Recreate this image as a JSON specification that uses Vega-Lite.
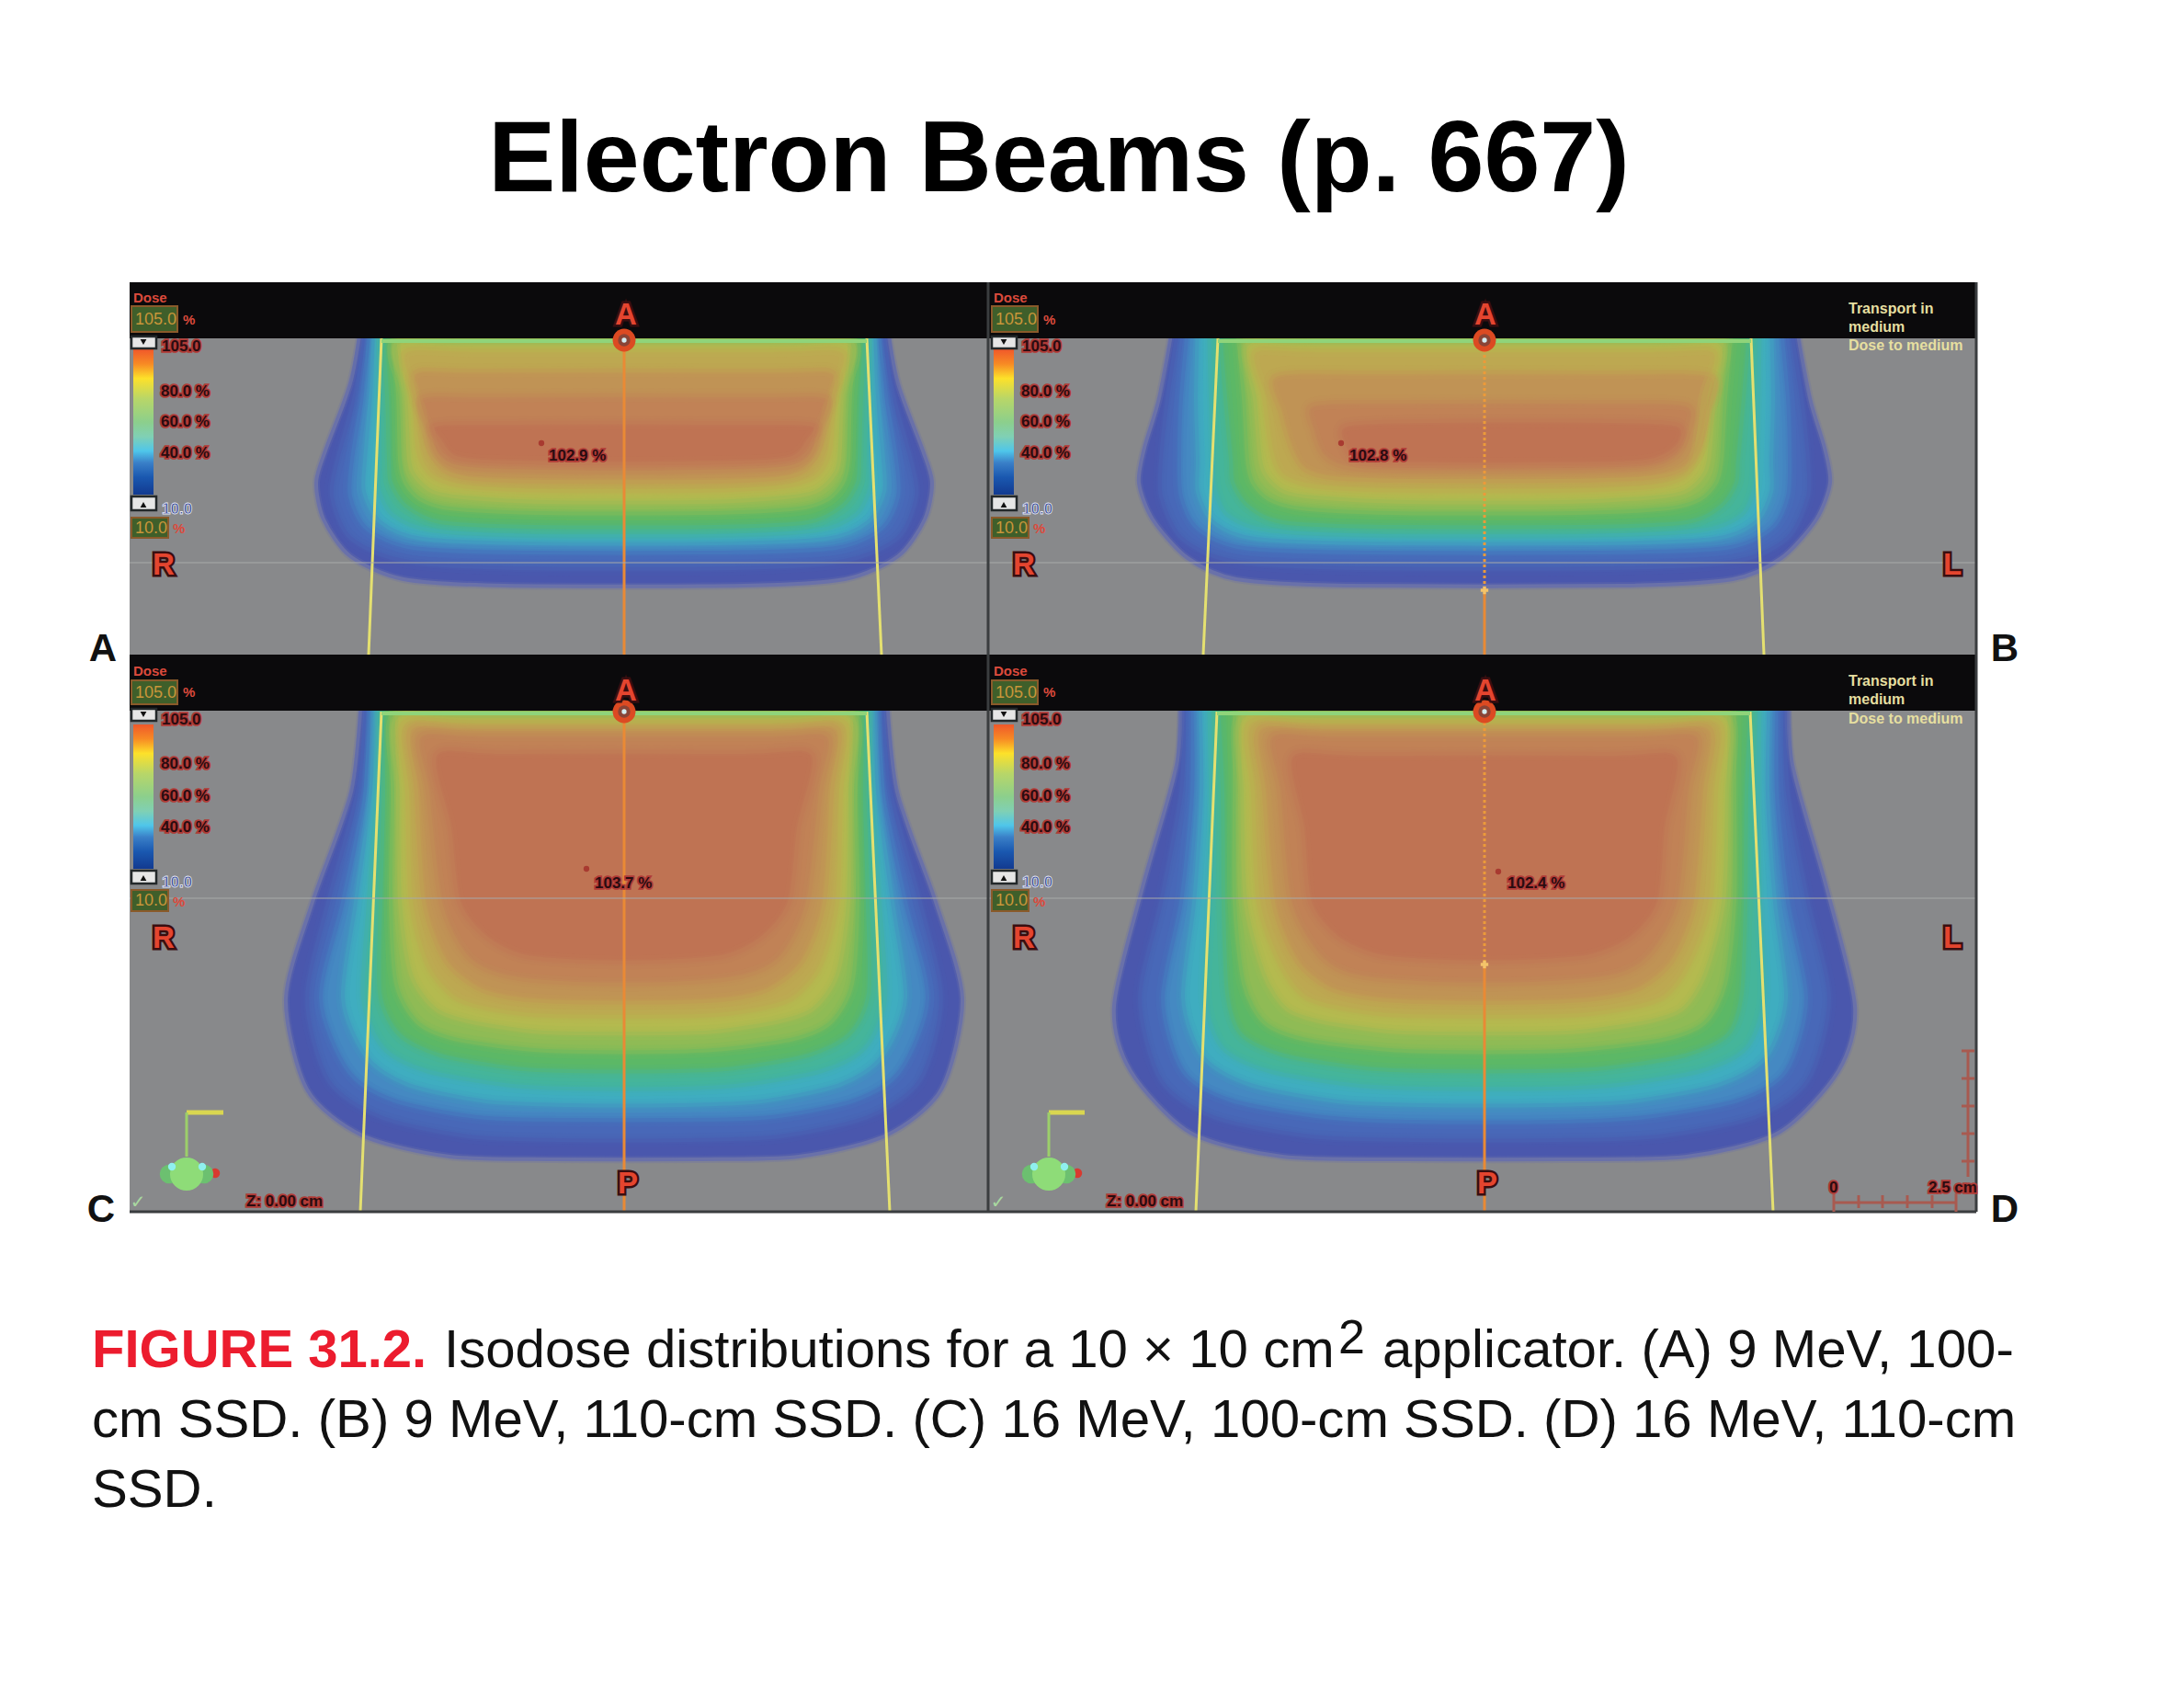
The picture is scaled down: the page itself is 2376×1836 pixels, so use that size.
{"$schema":"https://vega.github.io/schema/vega-lite/v6.json","width":2376,"height":1836,"autosize":{"type":"fit","contains":"padding"},"padding":0,"background":"#ffffff","view":{"stroke":null},
"datasets":{
"hud":[
{"text":"105.0","x":176,"y":382},{"text":"80.0 %","x":175,"y":431},{"text":"60.0 %","x":175,"y":464},{"text":"40.0 %","x":175,"y":498},
{"text":"105.0","x":1112,"y":382},{"text":"80.0 %","x":1111,"y":431},{"text":"60.0 %","x":1111,"y":464},{"text":"40.0 %","x":1111,"y":498},
{"text":"105.0","x":176,"y":788},{"text":"80.0 %","x":175,"y":836},{"text":"60.0 %","x":175,"y":871},{"text":"40.0 %","x":175,"y":905},
{"text":"105.0","x":1112,"y":788},{"text":"80.0 %","x":1111,"y":836},{"text":"60.0 %","x":1111,"y":871},{"text":"40.0 %","x":1111,"y":905},
{"text":"102.9 %","x":597,"y":501},{"text":"102.8 %","x":1468,"y":501},{"text":"103.7 %","x":647,"y":966},{"text":"102.4 %","x":1640,"y":966},
{"text":"Z: 0.00 cm","x":268,"y":1312},{"text":"Z: 0.00 cm","x":1204,"y":1312},{"text":"0","x":1990,"y":1297},{"text":"2.5 cm","x":2098,"y":1297}],
"letters":[
{"text":"A","x":681,"y":353},{"text":"A","x":1616,"y":353},{"text":"A","x":681,"y":762},{"text":"A","x":1616,"y":762},
{"text":"P","x":683,"y":1298},{"text":"P","x":1618,"y":1298},
{"text":"R","x":178,"y":625},{"text":"R","x":1114,"y":625},{"text":"R","x":178,"y":1031},{"text":"R","x":1114,"y":1031},
{"text":"L","x":2124,"y":625},{"text":"L","x":2124,"y":1031}],
"markers":[{"x":679,"y":370},{"x":1615,"y":370},{"x":679,"y":774},{"x":1615,"y":774}],
"shells":[
{"panel":"A","level":1,"x":394,"y":345},{"panel":"A","level":1,"x":381,"y":417},{"panel":"A","level":1,"x":354,"y":490},{"panel":"A","level":1,"x":344,"y":525},{"panel":"A","level":1,"x":352,"y":565},{"panel":"A","level":1,"x":381,"y":605},{"panel":"A","level":1,"x":439,"y":630},{"panel":"A","level":1,"x":549,"y":637},{"panel":"A","level":1,"x":809,"y":637},{"panel":"A","level":1,"x":919,"y":630},{"panel":"A","level":1,"x":977,"y":605},{"panel":"A","level":1,"x":1006,"y":565},{"panel":"A","level":1,"x":1014,"y":525},{"panel":"A","level":1,"x":1004,"y":490},{"panel":"A","level":1,"x":977,"y":417},{"panel":"A","level":1,"x":964,"y":345},{"panel":"A","level":1,"x":964,"y":320},{"panel":"A","level":1,"x":394,"y":320},
{"panel":"A","level":2,"x":399,"y":345},{"panel":"A","level":2,"x":386,"y":430},{"panel":"A","level":2,"x":367,"y":500},{"panel":"A","level":2,"x":361,"y":540},{"panel":"A","level":2,"x":381,"y":585},{"panel":"A","level":2,"x":439,"y":610},{"panel":"A","level":2,"x":559,"y":618},{"panel":"A","level":2,"x":799,"y":618},{"panel":"A","level":2,"x":919,"y":610},{"panel":"A","level":2,"x":977,"y":585},{"panel":"A","level":2,"x":997,"y":540},{"panel":"A","level":2,"x":991,"y":500},{"panel":"A","level":2,"x":972,"y":430},{"panel":"A","level":2,"x":959,"y":345},{"panel":"A","level":2,"x":959,"y":320},{"panel":"A","level":2,"x":399,"y":320},
{"panel":"A","level":3,"x":403,"y":345},{"panel":"A","level":3,"x":394,"y":430},{"panel":"A","level":3,"x":383,"y":500},{"panel":"A","level":3,"x":381,"y":540},{"panel":"A","level":3,"x":399,"y":575},{"panel":"A","level":3,"x":449,"y":596},{"panel":"A","level":3,"x":569,"y":601},{"panel":"A","level":3,"x":789,"y":601},{"panel":"A","level":3,"x":909,"y":596},{"panel":"A","level":3,"x":959,"y":575},{"panel":"A","level":3,"x":977,"y":540},{"panel":"A","level":3,"x":975,"y":500},{"panel":"A","level":3,"x":964,"y":430},{"panel":"A","level":3,"x":955,"y":345},{"panel":"A","level":3,"x":955,"y":320},{"panel":"A","level":3,"x":403,"y":320},
{"panel":"A","level":4,"x":407,"y":345},{"panel":"A","level":4,"x":403,"y":430},{"panel":"A","level":4,"x":397,"y":500},{"panel":"A","level":4,"x":396,"y":535},{"panel":"A","level":4,"x":414,"y":568},{"panel":"A","level":4,"x":459,"y":586},{"panel":"A","level":4,"x":579,"y":591},{"panel":"A","level":4,"x":779,"y":591},{"panel":"A","level":4,"x":899,"y":586},{"panel":"A","level":4,"x":944,"y":568},{"panel":"A","level":4,"x":962,"y":535},{"panel":"A","level":4,"x":961,"y":500},{"panel":"A","level":4,"x":955,"y":430},{"panel":"A","level":4,"x":951,"y":345},{"panel":"A","level":4,"x":951,"y":320},{"panel":"A","level":4,"x":407,"y":320},
{"panel":"A","level":5,"x":411,"y":345},{"panel":"A","level":5,"x":411,"y":430},{"panel":"A","level":5,"x":411,"y":500},{"panel":"A","level":5,"x":411,"y":530},{"panel":"A","level":5,"x":427,"y":560},{"panel":"A","level":5,"x":469,"y":577},{"panel":"A","level":5,"x":579,"y":583},{"panel":"A","level":5,"x":779,"y":583},{"panel":"A","level":5,"x":889,"y":577},{"panel":"A","level":5,"x":931,"y":560},{"panel":"A","level":5,"x":947,"y":530},{"panel":"A","level":5,"x":947,"y":500},{"panel":"A","level":5,"x":947,"y":430},{"panel":"A","level":5,"x":947,"y":345},{"panel":"A","level":5,"x":947,"y":320},{"panel":"A","level":5,"x":411,"y":320},
{"panel":"A","level":6,"x":415,"y":345},{"panel":"A","level":6,"x":421,"y":430},{"panel":"A","level":6,"x":423,"y":500},{"panel":"A","level":6,"x":425,"y":525},{"panel":"A","level":6,"x":441,"y":550},{"panel":"A","level":6,"x":479,"y":568},{"panel":"A","level":6,"x":579,"y":573},{"panel":"A","level":6,"x":779,"y":573},{"panel":"A","level":6,"x":879,"y":568},{"panel":"A","level":6,"x":917,"y":550},{"panel":"A","level":6,"x":933,"y":525},{"panel":"A","level":6,"x":935,"y":500},{"panel":"A","level":6,"x":937,"y":430},{"panel":"A","level":6,"x":943,"y":345},{"panel":"A","level":6,"x":943,"y":320},{"panel":"A","level":6,"x":415,"y":320},
{"panel":"A","level":7,"x":425,"y":345},{"panel":"A","level":7,"x":433,"y":430},{"panel":"A","level":7,"x":435,"y":500},{"panel":"A","level":7,"x":441,"y":525},{"panel":"A","level":7,"x":457,"y":543},{"panel":"A","level":7,"x":489,"y":553},{"panel":"A","level":7,"x":589,"y":558},{"panel":"A","level":7,"x":769,"y":558},{"panel":"A","level":7,"x":869,"y":553},{"panel":"A","level":7,"x":901,"y":543},{"panel":"A","level":7,"x":917,"y":525},{"panel":"A","level":7,"x":923,"y":500},{"panel":"A","level":7,"x":925,"y":430},{"panel":"A","level":7,"x":933,"y":345},{"panel":"A","level":7,"x":933,"y":320},{"panel":"A","level":7,"x":425,"y":320},
{"panel":"A","level":8,"x":431,"y":374},{"panel":"A","level":8,"x":441,"y":430},{"panel":"A","level":8,"x":445,"y":500},{"panel":"A","level":8,"x":453,"y":520},{"panel":"A","level":8,"x":471,"y":535},{"panel":"A","level":8,"x":504,"y":541},{"panel":"A","level":8,"x":589,"y":546},{"panel":"A","level":8,"x":769,"y":546},{"panel":"A","level":8,"x":854,"y":541},{"panel":"A","level":8,"x":887,"y":535},{"panel":"A","level":8,"x":905,"y":520},{"panel":"A","level":8,"x":913,"y":500},{"panel":"A","level":8,"x":917,"y":430},{"panel":"A","level":8,"x":927,"y":374},{"panel":"A","level":8,"x":849,"y":373},{"panel":"A","level":8,"x":509,"y":373},
{"panel":"A","level":9,"x":441,"y":382},{"panel":"A","level":9,"x":449,"y":430},{"panel":"A","level":9,"x":455,"y":490},{"panel":"A","level":9,"x":467,"y":515},{"panel":"A","level":9,"x":489,"y":526},{"panel":"A","level":9,"x":524,"y":531},{"panel":"A","level":9,"x":599,"y":534},{"panel":"A","level":9,"x":759,"y":534},{"panel":"A","level":9,"x":834,"y":531},{"panel":"A","level":9,"x":869,"y":526},{"panel":"A","level":9,"x":891,"y":515},{"panel":"A","level":9,"x":903,"y":490},{"panel":"A","level":9,"x":909,"y":430},{"panel":"A","level":9,"x":917,"y":382},{"panel":"A","level":9,"x":834,"y":381},{"panel":"A","level":9,"x":524,"y":381},
{"panel":"A","level":10,"x":451,"y":405},{"panel":"A","level":10,"x":457,"y":450},{"panel":"A","level":10,"x":467,"y":490},{"panel":"A","level":10,"x":483,"y":512},{"panel":"A","level":10,"x":514,"y":521},{"panel":"A","level":10,"x":599,"y":524},{"panel":"A","level":10,"x":759,"y":524},{"panel":"A","level":10,"x":844,"y":521},{"panel":"A","level":10,"x":875,"y":512},{"panel":"A","level":10,"x":891,"y":490},{"panel":"A","level":10,"x":901,"y":450},{"panel":"A","level":10,"x":907,"y":405},{"panel":"A","level":10,"x":839,"y":403},{"panel":"A","level":10,"x":519,"y":403},
{"panel":"A","level":11,"x":459,"y":432},{"panel":"A","level":11,"x":465,"y":465},{"panel":"A","level":11,"x":475,"y":495},{"panel":"A","level":11,"x":504,"y":509},{"panel":"A","level":11,"x":609,"y":513},{"panel":"A","level":11,"x":749,"y":513},{"panel":"A","level":11,"x":854,"y":509},{"panel":"A","level":11,"x":883,"y":495},{"panel":"A","level":11,"x":893,"y":465},{"panel":"A","level":11,"x":899,"y":432},{"panel":"A","level":11,"x":829,"y":430},{"panel":"A","level":11,"x":529,"y":430},
{"panel":"A","level":12,"x":474,"y":462},{"panel":"A","level":12,"x":479,"y":480},{"panel":"A","level":12,"x":494,"y":497},{"panel":"A","level":12,"x":529,"y":502},{"panel":"A","level":12,"x":629,"y":504},{"panel":"A","level":12,"x":729,"y":504},{"panel":"A","level":12,"x":829,"y":502},{"panel":"A","level":12,"x":864,"y":497},{"panel":"A","level":12,"x":879,"y":480},{"panel":"A","level":12,"x":884,"y":462},{"panel":"A","level":12,"x":809,"y":460},{"panel":"A","level":12,"x":549,"y":460},
{"panel":"B","level":1,"x":1277,"y":345},{"panel":"B","level":1,"x":1261,"y":433},{"panel":"B","level":1,"x":1245,"y":487},{"panel":"B","level":1,"x":1239,"y":525},{"panel":"B","level":1,"x":1254,"y":565},{"panel":"B","level":1,"x":1292,"y":607},{"panel":"B","level":1,"x":1345,"y":630},{"panel":"B","level":1,"x":1465,"y":637},{"panel":"B","level":1,"x":1765,"y":637},{"panel":"B","level":1,"x":1885,"y":630},{"panel":"B","level":1,"x":1938,"y":607},{"panel":"B","level":1,"x":1976,"y":565},{"panel":"B","level":1,"x":1991,"y":525},{"panel":"B","level":1,"x":1985,"y":487},{"panel":"B","level":1,"x":1969,"y":433},{"panel":"B","level":1,"x":1953,"y":345},{"panel":"B","level":1,"x":1953,"y":320},{"panel":"B","level":1,"x":1277,"y":320},
{"panel":"B","level":2,"x":1283,"y":345},{"panel":"B","level":2,"x":1270,"y":433},{"panel":"B","level":2,"x":1263,"y":500},{"panel":"B","level":2,"x":1263,"y":540},{"panel":"B","level":2,"x":1285,"y":585},{"panel":"B","level":2,"x":1340,"y":610},{"panel":"B","level":2,"x":1475,"y":618},{"panel":"B","level":2,"x":1755,"y":618},{"panel":"B","level":2,"x":1890,"y":610},{"panel":"B","level":2,"x":1945,"y":585},{"panel":"B","level":2,"x":1967,"y":540},{"panel":"B","level":2,"x":1967,"y":500},{"panel":"B","level":2,"x":1960,"y":433},{"panel":"B","level":2,"x":1947,"y":345},{"panel":"B","level":2,"x":1947,"y":320},{"panel":"B","level":2,"x":1283,"y":320},
{"panel":"B","level":3,"x":1293,"y":345},{"panel":"B","level":3,"x":1285,"y":433},{"panel":"B","level":3,"x":1283,"y":500},{"panel":"B","level":3,"x":1285,"y":540},{"panel":"B","level":3,"x":1303,"y":575},{"panel":"B","level":3,"x":1353,"y":596},{"panel":"B","level":3,"x":1485,"y":601},{"panel":"B","level":3,"x":1745,"y":601},{"panel":"B","level":3,"x":1877,"y":596},{"panel":"B","level":3,"x":1927,"y":575},{"panel":"B","level":3,"x":1945,"y":540},{"panel":"B","level":3,"x":1947,"y":500},{"panel":"B","level":3,"x":1945,"y":433},{"panel":"B","level":3,"x":1937,"y":345},{"panel":"B","level":3,"x":1937,"y":320},{"panel":"B","level":3,"x":1293,"y":320},
{"panel":"B","level":4,"x":1303,"y":345},{"panel":"B","level":4,"x":1301,"y":433},{"panel":"B","level":4,"x":1303,"y":500},{"panel":"B","level":4,"x":1303,"y":535},{"panel":"B","level":4,"x":1320,"y":568},{"panel":"B","level":4,"x":1365,"y":586},{"panel":"B","level":4,"x":1495,"y":591},{"panel":"B","level":4,"x":1735,"y":591},{"panel":"B","level":4,"x":1865,"y":586},{"panel":"B","level":4,"x":1910,"y":568},{"panel":"B","level":4,"x":1927,"y":535},{"panel":"B","level":4,"x":1927,"y":500},{"panel":"B","level":4,"x":1929,"y":433},{"panel":"B","level":4,"x":1927,"y":345},{"panel":"B","level":4,"x":1927,"y":320},{"panel":"B","level":4,"x":1303,"y":320},
{"panel":"B","level":5,"x":1315,"y":345},{"panel":"B","level":5,"x":1317,"y":433},{"panel":"B","level":5,"x":1319,"y":500},{"panel":"B","level":5,"x":1321,"y":530},{"panel":"B","level":5,"x":1335,"y":560},{"panel":"B","level":5,"x":1380,"y":577},{"panel":"B","level":5,"x":1505,"y":583},{"panel":"B","level":5,"x":1725,"y":583},{"panel":"B","level":5,"x":1850,"y":577},{"panel":"B","level":5,"x":1895,"y":560},{"panel":"B","level":5,"x":1909,"y":530},{"panel":"B","level":5,"x":1911,"y":500},{"panel":"B","level":5,"x":1913,"y":433},{"panel":"B","level":5,"x":1915,"y":345},{"panel":"B","level":5,"x":1915,"y":320},{"panel":"B","level":5,"x":1315,"y":320},
{"panel":"B","level":6,"x":1326,"y":345},{"panel":"B","level":6,"x":1333,"y":433},{"panel":"B","level":6,"x":1339,"y":500},{"panel":"B","level":6,"x":1341,"y":525},{"panel":"B","level":6,"x":1357,"y":550},{"panel":"B","level":6,"x":1395,"y":568},{"panel":"B","level":6,"x":1505,"y":573},{"panel":"B","level":6,"x":1725,"y":573},{"panel":"B","level":6,"x":1835,"y":568},{"panel":"B","level":6,"x":1873,"y":550},{"panel":"B","level":6,"x":1889,"y":525},{"panel":"B","level":6,"x":1891,"y":500},{"panel":"B","level":6,"x":1897,"y":433},{"panel":"B","level":6,"x":1904,"y":345},{"panel":"B","level":6,"x":1904,"y":320},{"panel":"B","level":6,"x":1326,"y":320},
{"panel":"B","level":7,"x":1345,"y":345},{"panel":"B","level":7,"x":1353,"y":433},{"panel":"B","level":7,"x":1357,"y":500},{"panel":"B","level":7,"x":1363,"y":525},{"panel":"B","level":7,"x":1380,"y":543},{"panel":"B","level":7,"x":1415,"y":553},{"panel":"B","level":7,"x":1515,"y":558},{"panel":"B","level":7,"x":1715,"y":558},{"panel":"B","level":7,"x":1815,"y":553},{"panel":"B","level":7,"x":1850,"y":543},{"panel":"B","level":7,"x":1867,"y":525},{"panel":"B","level":7,"x":1873,"y":500},{"panel":"B","level":7,"x":1877,"y":433},{"panel":"B","level":7,"x":1885,"y":345},{"panel":"B","level":7,"x":1885,"y":320},{"panel":"B","level":7,"x":1345,"y":320},
{"panel":"B","level":8,"x":1357,"y":374},{"panel":"B","level":8,"x":1365,"y":433},{"panel":"B","level":8,"x":1371,"y":500},{"panel":"B","level":8,"x":1379,"y":520},{"panel":"B","level":8,"x":1397,"y":535},{"panel":"B","level":8,"x":1430,"y":541},{"panel":"B","level":8,"x":1525,"y":546},{"panel":"B","level":8,"x":1705,"y":546},{"panel":"B","level":8,"x":1800,"y":541},{"panel":"B","level":8,"x":1833,"y":535},{"panel":"B","level":8,"x":1851,"y":520},{"panel":"B","level":8,"x":1859,"y":500},{"panel":"B","level":8,"x":1865,"y":433},{"panel":"B","level":8,"x":1873,"y":374},{"panel":"B","level":8,"x":1800,"y":373},{"panel":"B","level":8,"x":1430,"y":373},
{"panel":"B","level":9,"x":1365,"y":382},{"panel":"B","level":9,"x":1375,"y":433},{"panel":"B","level":9,"x":1383,"y":490},{"panel":"B","level":9,"x":1393,"y":515},{"panel":"B","level":9,"x":1415,"y":526},{"panel":"B","level":9,"x":1450,"y":531},{"panel":"B","level":9,"x":1535,"y":534},{"panel":"B","level":9,"x":1695,"y":534},{"panel":"B","level":9,"x":1780,"y":531},{"panel":"B","level":9,"x":1815,"y":526},{"panel":"B","level":9,"x":1837,"y":515},{"panel":"B","level":9,"x":1847,"y":490},{"panel":"B","level":9,"x":1855,"y":433},{"panel":"B","level":9,"x":1865,"y":382},{"panel":"B","level":9,"x":1790,"y":381},{"panel":"B","level":9,"x":1440,"y":381},
{"panel":"B","level":10,"x":1388,"y":408},{"panel":"B","level":10,"x":1393,"y":450},{"panel":"B","level":10,"x":1405,"y":490},{"panel":"B","level":10,"x":1419,"y":511},{"panel":"B","level":10,"x":1450,"y":520},{"panel":"B","level":10,"x":1535,"y":523},{"panel":"B","level":10,"x":1695,"y":523},{"panel":"B","level":10,"x":1790,"y":520},{"panel":"B","level":10,"x":1830,"y":511},{"panel":"B","level":10,"x":1848,"y":490},{"panel":"B","level":10,"x":1858,"y":450},{"panel":"B","level":10,"x":1860,"y":408},{"panel":"B","level":10,"x":1740,"y":405},{"panel":"B","level":10,"x":1500,"y":405},
{"panel":"B","level":11,"x":1428,"y":440},{"panel":"B","level":11,"x":1428,"y":470},{"panel":"B","level":11,"x":1440,"y":497},{"panel":"B","level":11,"x":1470,"y":510},{"panel":"B","level":11,"x":1545,"y":513},{"panel":"B","level":11,"x":1695,"y":513},{"panel":"B","level":11,"x":1790,"y":510},{"panel":"B","level":11,"x":1825,"y":497},{"panel":"B","level":11,"x":1838,"y":470},{"panel":"B","level":11,"x":1835,"y":440},{"panel":"B","level":11,"x":1740,"y":437},{"panel":"B","level":11,"x":1520,"y":437},
{"panel":"B","level":12,"x":1465,"y":462},{"panel":"B","level":12,"x":1462,"y":485},{"panel":"B","level":12,"x":1480,"y":502},{"panel":"B","level":12,"x":1560,"y":505},{"panel":"B","level":12,"x":1680,"y":505},{"panel":"B","level":12,"x":1790,"y":502},{"panel":"B","level":12,"x":1825,"y":485},{"panel":"B","level":12,"x":1825,"y":462},{"panel":"B","level":12,"x":1750,"y":458},{"panel":"B","level":12,"x":1560,"y":458},
{"panel":"C","level":1,"x":394,"y":750},{"panel":"C","level":1,"x":382,"y":861},{"panel":"C","level":1,"x":340,"y":981},{"panel":"C","level":1,"x":311,"y":1086},{"panel":"C","level":1,"x":334,"y":1185},{"panel":"C","level":1,"x":394,"y":1235},{"panel":"C","level":1,"x":489,"y":1258},{"panel":"C","level":1,"x":599,"y":1261},{"panel":"C","level":1,"x":759,"y":1261},{"panel":"C","level":1,"x":869,"y":1258},{"panel":"C","level":1,"x":964,"y":1235},{"panel":"C","level":1,"x":1024,"y":1185},{"panel":"C","level":1,"x":1047,"y":1086},{"panel":"C","level":1,"x":1018,"y":981},{"panel":"C","level":1,"x":976,"y":861},{"panel":"C","level":1,"x":964,"y":750},{"panel":"C","level":1,"x":964,"y":725},{"panel":"C","level":1,"x":394,"y":725},
{"panel":"C","level":2,"x":399,"y":750},{"panel":"C","level":2,"x":389,"y":861},{"panel":"C","level":2,"x":357,"y":981},{"panel":"C","level":2,"x":334,"y":1086},{"panel":"C","level":2,"x":357,"y":1175},{"panel":"C","level":2,"x":414,"y":1215},{"panel":"C","level":2,"x":509,"y":1236},{"panel":"C","level":2,"x":609,"y":1240},{"panel":"C","level":2,"x":749,"y":1240},{"panel":"C","level":2,"x":849,"y":1236},{"panel":"C","level":2,"x":944,"y":1215},{"panel":"C","level":2,"x":1001,"y":1175},{"panel":"C","level":2,"x":1024,"y":1086},{"panel":"C","level":2,"x":1001,"y":981},{"panel":"C","level":2,"x":969,"y":861},{"panel":"C","level":2,"x":959,"y":750},{"panel":"C","level":2,"x":959,"y":725},{"panel":"C","level":2,"x":399,"y":725},
{"panel":"C","level":3,"x":403,"y":750},{"panel":"C","level":3,"x":397,"y":861},{"panel":"C","level":3,"x":373,"y":981},{"panel":"C","level":3,"x":349,"y":1086},{"panel":"C","level":3,"x":379,"y":1165},{"panel":"C","level":3,"x":429,"y":1197},{"panel":"C","level":3,"x":519,"y":1215},{"panel":"C","level":3,"x":609,"y":1218},{"panel":"C","level":3,"x":749,"y":1218},{"panel":"C","level":3,"x":839,"y":1215},{"panel":"C","level":3,"x":929,"y":1197},{"panel":"C","level":3,"x":979,"y":1165},{"panel":"C","level":3,"x":1009,"y":1086},{"panel":"C","level":3,"x":985,"y":981},{"panel":"C","level":3,"x":961,"y":861},{"panel":"C","level":3,"x":955,"y":750},{"panel":"C","level":3,"x":955,"y":725},{"panel":"C","level":3,"x":403,"y":725},
{"panel":"C","level":4,"x":407,"y":750},{"panel":"C","level":4,"x":403,"y":861},{"panel":"C","level":4,"x":387,"y":981},{"panel":"C","level":4,"x":373,"y":1086},{"panel":"C","level":4,"x":399,"y":1150},{"panel":"C","level":4,"x":444,"y":1180},{"panel":"C","level":4,"x":529,"y":1198},{"panel":"C","level":4,"x":619,"y":1202},{"panel":"C","level":4,"x":739,"y":1202},{"panel":"C","level":4,"x":829,"y":1198},{"panel":"C","level":4,"x":914,"y":1180},{"panel":"C","level":4,"x":959,"y":1150},{"panel":"C","level":4,"x":985,"y":1086},{"panel":"C","level":4,"x":971,"y":981},{"panel":"C","level":4,"x":955,"y":861},{"panel":"C","level":4,"x":951,"y":750},{"panel":"C","level":4,"x":951,"y":725},{"panel":"C","level":4,"x":407,"y":725},
{"panel":"C","level":5,"x":411,"y":750},{"panel":"C","level":5,"x":409,"y":861},{"panel":"C","level":5,"x":401,"y":981},{"panel":"C","level":5,"x":395,"y":1086},{"panel":"C","level":5,"x":417,"y":1140},{"panel":"C","level":5,"x":464,"y":1165},{"panel":"C","level":5,"x":549,"y":1180},{"panel":"C","level":5,"x":619,"y":1184},{"panel":"C","level":5,"x":739,"y":1184},{"panel":"C","level":5,"x":809,"y":1180},{"panel":"C","level":5,"x":894,"y":1165},{"panel":"C","level":5,"x":941,"y":1140},{"panel":"C","level":5,"x":963,"y":1086},{"panel":"C","level":5,"x":957,"y":981},{"panel":"C","level":5,"x":949,"y":861},{"panel":"C","level":5,"x":947,"y":750},{"panel":"C","level":5,"x":947,"y":725},{"panel":"C","level":5,"x":411,"y":725},
{"panel":"C","level":6,"x":415,"y":750},{"panel":"C","level":6,"x":417,"y":861},{"panel":"C","level":6,"x":414,"y":981},{"panel":"C","level":6,"x":413,"y":1080},{"panel":"C","level":6,"x":434,"y":1125},{"panel":"C","level":6,"x":479,"y":1148},{"panel":"C","level":6,"x":559,"y":1162},{"panel":"C","level":6,"x":619,"y":1165},{"panel":"C","level":6,"x":739,"y":1165},{"panel":"C","level":6,"x":799,"y":1162},{"panel":"C","level":6,"x":879,"y":1148},{"panel":"C","level":6,"x":924,"y":1125},{"panel":"C","level":6,"x":945,"y":1080},{"panel":"C","level":6,"x":944,"y":981},{"panel":"C","level":6,"x":941,"y":861},{"panel":"C","level":6,"x":943,"y":750},{"panel":"C","level":6,"x":943,"y":725},{"panel":"C","level":6,"x":415,"y":725},
{"panel":"C","level":7,"x":425,"y":750},{"panel":"C","level":7,"x":427,"y":861},{"panel":"C","level":7,"x":425,"y":981},{"panel":"C","level":7,"x":431,"y":1070},{"panel":"C","level":7,"x":454,"y":1112},{"panel":"C","level":7,"x":494,"y":1130},{"panel":"C","level":7,"x":569,"y":1141},{"panel":"C","level":7,"x":629,"y":1144},{"panel":"C","level":7,"x":729,"y":1144},{"panel":"C","level":7,"x":789,"y":1141},{"panel":"C","level":7,"x":864,"y":1130},{"panel":"C","level":7,"x":904,"y":1112},{"panel":"C","level":7,"x":927,"y":1070},{"panel":"C","level":7,"x":933,"y":981},{"panel":"C","level":7,"x":931,"y":861},{"panel":"C","level":7,"x":933,"y":750},{"panel":"C","level":7,"x":933,"y":725},{"panel":"C","level":7,"x":425,"y":725},
{"panel":"C","level":8,"x":431,"y":780},{"panel":"C","level":8,"x":433,"y":861},{"panel":"C","level":8,"x":435,"y":981},{"panel":"C","level":8,"x":447,"y":1060},{"panel":"C","level":8,"x":474,"y":1098},{"panel":"C","level":8,"x":514,"y":1112},{"panel":"C","level":8,"x":579,"y":1122},{"panel":"C","level":8,"x":629,"y":1124},{"panel":"C","level":8,"x":729,"y":1124},{"panel":"C","level":8,"x":779,"y":1122},{"panel":"C","level":8,"x":844,"y":1112},{"panel":"C","level":8,"x":884,"y":1098},{"panel":"C","level":8,"x":911,"y":1060},{"panel":"C","level":8,"x":923,"y":981},{"panel":"C","level":8,"x":925,"y":861},{"panel":"C","level":8,"x":927,"y":780},{"panel":"C","level":8,"x":849,"y":779},{"panel":"C","level":8,"x":509,"y":779},
{"panel":"C","level":9,"x":439,"y":786},{"panel":"C","level":9,"x":443,"y":861},{"panel":"C","level":9,"x":447,"y":981},{"panel":"C","level":9,"x":465,"y":1050},{"panel":"C","level":9,"x":494,"y":1085},{"panel":"C","level":9,"x":534,"y":1098},{"panel":"C","level":9,"x":599,"y":1105},{"panel":"C","level":9,"x":759,"y":1105},{"panel":"C","level":9,"x":824,"y":1098},{"panel":"C","level":9,"x":864,"y":1085},{"panel":"C","level":9,"x":893,"y":1050},{"panel":"C","level":9,"x":911,"y":981},{"panel":"C","level":9,"x":915,"y":861},{"panel":"C","level":9,"x":919,"y":786},{"panel":"C","level":9,"x":834,"y":785},{"panel":"C","level":9,"x":524,"y":785},
{"panel":"C","level":10,"x":447,"y":792},{"panel":"C","level":10,"x":453,"y":861},{"panel":"C","level":10,"x":461,"y":981},{"panel":"C","level":10,"x":484,"y":1045},{"panel":"C","level":10,"x":519,"y":1075},{"panel":"C","level":10,"x":559,"y":1086},{"panel":"C","level":10,"x":619,"y":1090},{"panel":"C","level":10,"x":739,"y":1090},{"panel":"C","level":10,"x":799,"y":1086},{"panel":"C","level":10,"x":839,"y":1075},{"panel":"C","level":10,"x":874,"y":1045},{"panel":"C","level":10,"x":897,"y":981},{"panel":"C","level":10,"x":905,"y":861},{"panel":"C","level":10,"x":911,"y":792},{"panel":"C","level":10,"x":839,"y":791},{"panel":"C","level":10,"x":519,"y":791},
{"panel":"C","level":11,"x":457,"y":800},{"panel":"C","level":11,"x":465,"y":861},{"panel":"C","level":11,"x":479,"y":981},{"panel":"C","level":11,"x":507,"y":1040},{"panel":"C","level":11,"x":549,"y":1062},{"panel":"C","level":11,"x":629,"y":1070},{"panel":"C","level":11,"x":729,"y":1070},{"panel":"C","level":11,"x":809,"y":1062},{"panel":"C","level":11,"x":851,"y":1040},{"panel":"C","level":11,"x":879,"y":981},{"panel":"C","level":11,"x":893,"y":861},{"panel":"C","level":11,"x":901,"y":800},{"panel":"C","level":11,"x":829,"y":799},{"panel":"C","level":11,"x":529,"y":799},
{"panel":"C","level":12,"x":474,"y":820},{"panel":"C","level":12,"x":489,"y":900},{"panel":"C","level":12,"x":499,"y":981},{"panel":"C","level":12,"x":529,"y":1020},{"panel":"C","level":12,"x":569,"y":1040},{"panel":"C","level":12,"x":639,"y":1046},{"panel":"C","level":12,"x":719,"y":1046},{"panel":"C","level":12,"x":789,"y":1040},{"panel":"C","level":12,"x":829,"y":1020},{"panel":"C","level":12,"x":859,"y":981},{"panel":"C","level":12,"x":869,"y":900},{"panel":"C","level":12,"x":884,"y":820},{"panel":"C","level":12,"x":809,"y":818},{"panel":"C","level":12,"x":549,"y":818},
{"panel":"D","level":1,"x":1285,"y":750},{"panel":"D","level":1,"x":1280,"y":832},{"panel":"D","level":1,"x":1243,"y":965},{"panel":"D","level":1,"x":1212,"y":1094},{"panel":"D","level":1,"x":1230,"y":1165},{"panel":"D","level":1,"x":1295,"y":1232},{"panel":"D","level":1,"x":1395,"y":1258},{"panel":"D","level":1,"x":1525,"y":1261},{"panel":"D","level":1,"x":1705,"y":1261},{"panel":"D","level":1,"x":1835,"y":1258},{"panel":"D","level":1,"x":1935,"y":1232},{"panel":"D","level":1,"x":2000,"y":1165},{"panel":"D","level":1,"x":2018,"y":1094},{"panel":"D","level":1,"x":1987,"y":965},{"panel":"D","level":1,"x":1950,"y":832},{"panel":"D","level":1,"x":1945,"y":750},{"panel":"D","level":1,"x":1945,"y":725},{"panel":"D","level":1,"x":1285,"y":725},
{"panel":"D","level":2,"x":1289,"y":750},{"panel":"D","level":2,"x":1285,"y":861},{"panel":"D","level":2,"x":1263,"y":981},{"panel":"D","level":2,"x":1240,"y":1086},{"panel":"D","level":2,"x":1263,"y":1175},{"panel":"D","level":2,"x":1320,"y":1215},{"panel":"D","level":2,"x":1425,"y":1236},{"panel":"D","level":2,"x":1535,"y":1240},{"panel":"D","level":2,"x":1695,"y":1240},{"panel":"D","level":2,"x":1805,"y":1236},{"panel":"D","level":2,"x":1910,"y":1215},{"panel":"D","level":2,"x":1967,"y":1175},{"panel":"D","level":2,"x":1990,"y":1086},{"panel":"D","level":2,"x":1967,"y":981},{"panel":"D","level":2,"x":1945,"y":861},{"panel":"D","level":2,"x":1941,"y":750},{"panel":"D","level":2,"x":1941,"y":725},{"panel":"D","level":2,"x":1289,"y":725},
{"panel":"D","level":3,"x":1297,"y":750},{"panel":"D","level":3,"x":1297,"y":861},{"panel":"D","level":3,"x":1285,"y":981},{"panel":"D","level":3,"x":1265,"y":1086},{"panel":"D","level":3,"x":1287,"y":1165},{"panel":"D","level":3,"x":1340,"y":1197},{"panel":"D","level":3,"x":1440,"y":1215},{"panel":"D","level":3,"x":1535,"y":1220},{"panel":"D","level":3,"x":1695,"y":1220},{"panel":"D","level":3,"x":1790,"y":1215},{"panel":"D","level":3,"x":1890,"y":1197},{"panel":"D","level":3,"x":1943,"y":1165},{"panel":"D","level":3,"x":1965,"y":1086},{"panel":"D","level":3,"x":1945,"y":981},{"panel":"D","level":3,"x":1933,"y":861},{"panel":"D","level":3,"x":1933,"y":750},{"panel":"D","level":3,"x":1933,"y":725},{"panel":"D","level":3,"x":1297,"y":725},
{"panel":"D","level":4,"x":1305,"y":750},{"panel":"D","level":4,"x":1307,"y":861},{"panel":"D","level":4,"x":1299,"y":981},{"panel":"D","level":4,"x":1287,"y":1086},{"panel":"D","level":4,"x":1309,"y":1150},{"panel":"D","level":4,"x":1360,"y":1180},{"panel":"D","level":4,"x":1455,"y":1198},{"panel":"D","level":4,"x":1545,"y":1202},{"panel":"D","level":4,"x":1685,"y":1202},{"panel":"D","level":4,"x":1775,"y":1198},{"panel":"D","level":4,"x":1870,"y":1180},{"panel":"D","level":4,"x":1921,"y":1150},{"panel":"D","level":4,"x":1943,"y":1086},{"panel":"D","level":4,"x":1931,"y":981},{"panel":"D","level":4,"x":1923,"y":861},{"panel":"D","level":4,"x":1925,"y":750},{"panel":"D","level":4,"x":1925,"y":725},{"panel":"D","level":4,"x":1305,"y":725},
{"panel":"D","level":5,"x":1315,"y":750},{"panel":"D","level":5,"x":1317,"y":861},{"panel":"D","level":5,"x":1315,"y":981},{"panel":"D","level":5,"x":1311,"y":1086},{"panel":"D","level":5,"x":1330,"y":1140},{"panel":"D","level":5,"x":1380,"y":1165},{"panel":"D","level":5,"x":1470,"y":1180},{"panel":"D","level":5,"x":1545,"y":1184},{"panel":"D","level":5,"x":1685,"y":1184},{"panel":"D","level":5,"x":1760,"y":1180},{"panel":"D","level":5,"x":1850,"y":1165},{"panel":"D","level":5,"x":1900,"y":1140},{"panel":"D","level":5,"x":1919,"y":1086},{"panel":"D","level":5,"x":1915,"y":981},{"panel":"D","level":5,"x":1913,"y":861},{"panel":"D","level":5,"x":1915,"y":750},{"panel":"D","level":5,"x":1915,"y":725},{"panel":"D","level":5,"x":1315,"y":725},
{"panel":"D","level":6,"x":1324,"y":750},{"panel":"D","level":6,"x":1330,"y":861},{"panel":"D","level":6,"x":1331,"y":981},{"panel":"D","level":6,"x":1335,"y":1080},{"panel":"D","level":6,"x":1350,"y":1125},{"panel":"D","level":6,"x":1397,"y":1148},{"panel":"D","level":6,"x":1485,"y":1162},{"panel":"D","level":6,"x":1555,"y":1165},{"panel":"D","level":6,"x":1675,"y":1165},{"panel":"D","level":6,"x":1745,"y":1162},{"panel":"D","level":6,"x":1833,"y":1148},{"panel":"D","level":6,"x":1880,"y":1125},{"panel":"D","level":6,"x":1895,"y":1080},{"panel":"D","level":6,"x":1899,"y":981},{"panel":"D","level":6,"x":1900,"y":861},{"panel":"D","level":6,"x":1906,"y":750},{"panel":"D","level":6,"x":1906,"y":725},{"panel":"D","level":6,"x":1324,"y":725},
{"panel":"D","level":7,"x":1343,"y":750},{"panel":"D","level":7,"x":1343,"y":861},{"panel":"D","level":7,"x":1343,"y":981},{"panel":"D","level":7,"x":1353,"y":1070},{"panel":"D","level":7,"x":1375,"y":1112},{"panel":"D","level":7,"x":1417,"y":1130},{"panel":"D","level":7,"x":1500,"y":1141},{"panel":"D","level":7,"x":1565,"y":1144},{"panel":"D","level":7,"x":1665,"y":1144},{"panel":"D","level":7,"x":1730,"y":1141},{"panel":"D","level":7,"x":1813,"y":1130},{"panel":"D","level":7,"x":1855,"y":1112},{"panel":"D","level":7,"x":1877,"y":1070},{"panel":"D","level":7,"x":1887,"y":981},{"panel":"D","level":7,"x":1887,"y":861},{"panel":"D","level":7,"x":1887,"y":750},{"panel":"D","level":7,"x":1887,"y":725},{"panel":"D","level":7,"x":1343,"y":725},
{"panel":"D","level":8,"x":1351,"y":780},{"panel":"D","level":8,"x":1351,"y":861},{"panel":"D","level":8,"x":1355,"y":981},{"panel":"D","level":8,"x":1375,"y":1060},{"panel":"D","level":8,"x":1400,"y":1098},{"panel":"D","level":8,"x":1440,"y":1112},{"panel":"D","level":8,"x":1510,"y":1122},{"panel":"D","level":8,"x":1565,"y":1124},{"panel":"D","level":8,"x":1665,"y":1124},{"panel":"D","level":8,"x":1720,"y":1122},{"panel":"D","level":8,"x":1790,"y":1112},{"panel":"D","level":8,"x":1830,"y":1098},{"panel":"D","level":8,"x":1855,"y":1060},{"panel":"D","level":8,"x":1875,"y":981},{"panel":"D","level":8,"x":1879,"y":861},{"panel":"D","level":8,"x":1879,"y":780},{"panel":"D","level":8,"x":1800,"y":779},{"panel":"D","level":8,"x":1430,"y":779},
{"panel":"D","level":9,"x":1359,"y":786},{"panel":"D","level":9,"x":1363,"y":861},{"panel":"D","level":9,"x":1369,"y":981},{"panel":"D","level":9,"x":1393,"y":1050},{"panel":"D","level":9,"x":1420,"y":1085},{"panel":"D","level":9,"x":1465,"y":1098},{"panel":"D","level":9,"x":1530,"y":1105},{"panel":"D","level":9,"x":1700,"y":1105},{"panel":"D","level":9,"x":1765,"y":1098},{"panel":"D","level":9,"x":1810,"y":1085},{"panel":"D","level":9,"x":1837,"y":1050},{"panel":"D","level":9,"x":1861,"y":981},{"panel":"D","level":9,"x":1867,"y":861},{"panel":"D","level":9,"x":1871,"y":786},{"panel":"D","level":9,"x":1790,"y":785},{"panel":"D","level":9,"x":1440,"y":785},
{"panel":"D","level":10,"x":1370,"y":792},{"panel":"D","level":10,"x":1375,"y":861},{"panel":"D","level":10,"x":1385,"y":981},{"panel":"D","level":10,"x":1410,"y":1045},{"panel":"D","level":10,"x":1445,"y":1075},{"panel":"D","level":10,"x":1490,"y":1086},{"panel":"D","level":10,"x":1555,"y":1090},{"panel":"D","level":10,"x":1675,"y":1090},{"panel":"D","level":10,"x":1740,"y":1086},{"panel":"D","level":10,"x":1785,"y":1075},{"panel":"D","level":10,"x":1820,"y":1045},{"panel":"D","level":10,"x":1845,"y":981},{"panel":"D","level":10,"x":1855,"y":861},{"panel":"D","level":10,"x":1860,"y":792},{"panel":"D","level":10,"x":1780,"y":791},{"panel":"D","level":10,"x":1450,"y":791},
{"panel":"D","level":11,"x":1383,"y":800},{"panel":"D","level":11,"x":1391,"y":861},{"panel":"D","level":11,"x":1403,"y":981},{"panel":"D","level":11,"x":1435,"y":1040},{"panel":"D","level":11,"x":1475,"y":1062},{"panel":"D","level":11,"x":1565,"y":1070},{"panel":"D","level":11,"x":1665,"y":1070},{"panel":"D","level":11,"x":1755,"y":1062},{"panel":"D","level":11,"x":1795,"y":1040},{"panel":"D","level":11,"x":1827,"y":981},{"panel":"D","level":11,"x":1839,"y":861},{"panel":"D","level":11,"x":1847,"y":800},{"panel":"D","level":11,"x":1770,"y":799},{"panel":"D","level":11,"x":1460,"y":799},
{"panel":"D","level":12,"x":1405,"y":822},{"panel":"D","level":12,"x":1417,"y":900},{"panel":"D","level":12,"x":1425,"y":981},{"panel":"D","level":12,"x":1455,"y":1020},{"panel":"D","level":12,"x":1500,"y":1040},{"panel":"D","level":12,"x":1575,"y":1046},{"panel":"D","level":12,"x":1655,"y":1046},{"panel":"D","level":12,"x":1730,"y":1040},{"panel":"D","level":12,"x":1775,"y":1020},{"panel":"D","level":12,"x":1805,"y":981},{"panel":"D","level":12,"x":1813,"y":900},{"panel":"D","level":12,"x":1825,"y":822},{"panel":"D","level":12,"x":1750,"y":820},{"panel":"D","level":12,"x":1480,"y":820}
]},
"encoding":{"x":{"field":"x","type":"quantitative","scale":{"domain":[0,2376],"nice":false,"zero":false},"axis":null},"y":{"field":"y","type":"quantitative","scale":{"domain":[1836,0],"nice":false,"zero":false},"axis":null}},
"layer":[
{"data":{"values":[{"x":141,"x2":2150,"y":307,"y2":1318}]},"mark":{"type":"rect","fill":"#88898b"},"encoding":{"x2":{"field":"x2"},"y2":{"field":"y2"}}},
{"data":{"name":"shells"},"mark":{"type":"line","interpolate":"cardinal-closed","tension":0.2,"strokeWidth":4,"strokeJoin":"round"},"encoding":{"detail":{"field":"panel"},"order":{"value":null},
"fill":{"field":"level","type":"ordinal","legend":null,"scale":{"domain":[1,2,3,4,5,6,7,8,9,10,11,12],"range":["#4a57ad","#4868b8","#4589c2","#3fadc0","#45b59a","#5cb866","#8fbb55","#b4ba4f","#bda851","#c09355","#c18256","#bf7353"]}},
"stroke":{"field":"level","type":"ordinal","legend":null,"scale":{"domain":[1,2,3,4,5,6,7,8,9,10,11,12],"range":["#6a72aa","#495fb2","#4678bd","#429bc1","#42b1ad","#50b680","#76ba5d","#a2ba52","#b9b150","#bf9e53","#c18b55","#c07b55"]}}}},
{"data":{"name":"shells"},"transform":[{"filter":"datum.level>1"}],"mark":{"type":"line","interpolate":"cardinal-closed","tension":0.2,"strokeWidth":15,"strokeOpacity":0.22,"strokeJoin":"round"},"encoding":{"detail":{"field":"panel"},"order":{"value":null},
"stroke":{"field":"level","type":"ordinal","legend":null,"scale":{"domain":[2,3,4,5,6,7,8,9,10,11,12],"range":["#495fb2","#4678bd","#429bc1","#42b1ad","#50b680","#76ba5d","#a2ba52","#b9b150","#bf9e53","#c18b55","#c07b55"]}}}},
{"data":{"name":"shells"},"mark":{"type":"line","interpolate":"cardinal-closed","tension":0.2,"strokeWidth":8,"strokeOpacity":0.3,"strokeJoin":"round"},"encoding":{"detail":{"field":"panel"},"order":{"value":null},
"stroke":{"field":"level","type":"ordinal","legend":null,"scale":{"domain":[1,2,3,4,5,6,7,8,9,10,11,12],"range":["#6a72aa","#495fb2","#4678bd","#429bc1","#42b1ad","#50b680","#76ba5d","#a2ba52","#b9b150","#bf9e53","#c18b55","#c07b55"]}}}},
{"data":{"values":[{"x":141,"x2":2150,"y":307,"y2":368},{"x":141,"x2":2150,"y":712,"y2":773}]},"mark":{"type":"rect","fill":"#0b0a0c"},"encoding":{"x2":{"field":"x2"},"y2":{"field":"y2"}}},
{"data":{"values":[
{"kind":"beam","x":415,"x2":401,"y":368,"y2":712},{"kind":"beam","x":943,"x2":959,"y":368,"y2":712},{"kind":"beam","x":1325,"x2":1309,"y":368,"y2":712},{"kind":"beam","x":1905,"x2":1919,"y":368,"y2":712},
{"kind":"beam","x":415,"x2":392,"y":774,"y2":1318},{"kind":"beam","x":943,"x2":968,"y":774,"y2":1318},{"kind":"beam","x":1324,"x2":1301,"y":774,"y2":1318},{"kind":"beam","x":1904,"x2":1929,"y":774,"y2":1318},
{"kind":"rim","x":415,"x2":943,"y":371,"y2":371},{"kind":"rim","x":1325,"x2":1905,"y":371,"y2":371},{"kind":"rim","x":415,"x2":943,"y":776,"y2":776},{"kind":"rim","x":1324,"x2":1904,"y":776,"y2":776},
{"kind":"axis","x":679,"x2":679,"y":368,"y2":712},{"kind":"axis","x":679,"x2":679,"y":774,"y2":1318},{"kind":"axis","x":1615,"x2":1615,"y":640,"y2":712},{"kind":"axis","x":1615,"x2":1615,"y":1049,"y2":1318},
{"kind":"horizon","x":141,"x2":2150,"y":612,"y2":612},{"kind":"horizon","x":141,"x2":2150,"y":977,"y2":977},
{"kind":"frame","x":1075,"x2":1075,"y":307,"y2":1318},{"kind":"frame","x":141,"x2":2150,"y":1318,"y2":1318},{"kind":"frame","x":2150,"x2":2150,"y":307,"y2":1318},
{"kind":"iconbar","x":203,"x2":243,"y":1210,"y2":1210},{"kind":"iconbar","x":1141,"x2":1180,"y":1210,"y2":1210},{"kind":"iconstem","x":203,"x2":203,"y":1210,"y2":1258},{"kind":"iconstem","x":1141,"x2":1141,"y":1210,"y2":1258},
{"kind":"scale","x":1995,"x2":2128,"y":1308,"y2":1308},{"kind":"scale","x":1995,"x2":1995,"y":1298,"y2":1318},{"kind":"scale","x":2022,"x2":2022,"y":1300,"y2":1314},{"kind":"scale","x":2048,"x2":2048,"y":1300,"y2":1314},{"kind":"scale","x":2075,"x2":2075,"y":1300,"y2":1314},{"kind":"scale","x":2102,"x2":2102,"y":1300,"y2":1314},{"kind":"scale","x":2128,"x2":2128,"y":1298,"y2":1318},
{"kind":"scale","x":2141,"x2":2141,"y":1143,"y2":1280},{"kind":"scale","x":2134,"x2":2148,"y":1143,"y2":1143},{"kind":"scale","x":2134,"x2":2148,"y":1173,"y2":1173},{"kind":"scale","x":2134,"x2":2148,"y":1203,"y2":1203},{"kind":"scale","x":2134,"x2":2148,"y":1233,"y2":1233},{"kind":"scale","x":2134,"x2":2148,"y":1263,"y2":1263}
]},"mark":{"type":"rule"},"encoding":{"x2":{"field":"x2"},"y2":{"field":"y2"},
"color":{"field":"kind","type":"nominal","legend":null,"scale":{"domain":["beam","rim","axis","horizon","frame","iconbar","iconstem","scale"],"range":["#e4e070","#8fd47a","#e98a35","#a8aaaa","#3a3d3f","#d9d650","#9ccf6a","#a85a50"]}},
"size":{"field":"kind","type":"nominal","legend":null,"scale":{"type":"ordinal","domain":["beam","rim","axis","horizon","frame","iconbar","iconstem","scale"],"range":[3,4,3,1,3,5,3,3]}}}},
{"data":{"values":[{"x":1615,"x2":1615,"y":368,"y2":640},{"x":1615,"x2":1615,"y":774,"y2":1049}]},"mark":{"type":"rule","color":"#ec9a3a","strokeWidth":3,"strokeDash":[3,3]},"encoding":{"x2":{"field":"x2"},"y2":{"field":"y2"}}},
{"data":{"values":[{"x":143,"x2":193,"y":333,"y2":361},{"x":1079,"x2":1129,"y":333,"y2":361},{"x":143,"x2":193,"y":740,"y2":766},{"x":1079,"x2":1129,"y":740,"y2":766},{"x":143,"x2":183,"y":563,"y2":585},{"x":1079,"x2":1119,"y":563,"y2":585},{"x":143,"x2":183,"y":968,"y2":991},{"x":1079,"x2":1119,"y":968,"y2":991}]},"mark":{"type":"rect","fill":"#3f5f2a","stroke":"#8a5a2a","strokeWidth":2},"encoding":{"x2":{"field":"x2"},"y2":{"field":"y2"}}},
{"data":{"values":[{"x":145,"x2":167,"y":380,"y2":538},{"x":1081,"x2":1103,"y":380,"y2":538},{"x":145,"x2":167,"y":788,"y2":945},{"x":1081,"x2":1103,"y":788,"y2":945}]},"mark":{"type":"rect","fill":{"x1":0,"y1":0,"x2":0,"y2":1,"gradient":"linear","stops":[{"offset":0,"color":"#f0582a"},{"offset":0.1,"color":"#f78a24"},{"offset":0.2,"color":"#fde12a"},{"offset":0.34,"color":"#b8d668"},{"offset":0.5,"color":"#8ccf8c"},{"offset":0.6,"color":"#80d0b4"},{"offset":0.7,"color":"#4fc6ea"},{"offset":0.78,"color":"#3a80c8"},{"offset":0.88,"color":"#1a58b0"},{"offset":1,"color":"#123a90"}]}},"encoding":{"x2":{"field":"x2"},"y2":{"field":"y2"}}},
{"data":{"values":[{"x":143,"x2":170,"y":366,"y2":379},{"x":1079,"x2":1106,"y":366,"y2":379},{"x":143,"x2":170,"y":540,"y2":555},{"x":1079,"x2":1106,"y":540,"y2":555},{"x":143,"x2":170,"y":771,"y2":784},{"x":1079,"x2":1106,"y":771,"y2":784},{"x":143,"x2":170,"y":947,"y2":961},{"x":1079,"x2":1106,"y":947,"y2":961}]},"mark":{"type":"rect","fill":"#e6e6e6","stroke":"#23282a","strokeWidth":2.5},"encoding":{"x2":{"field":"x2"},"y2":{"field":"y2"}}},
{"data":{"values":[{"x":156,"y":372},{"x":1092,"y":372},{"x":156,"y":777},{"x":1092,"y":777}]},"mark":{"type":"point","shape":"triangle-down","filled":true,"color":"#111111","size":45,"opacity":1}},
{"data":{"values":[{"x":156,"y":549},{"x":1092,"y":549},{"x":156,"y":955},{"x":1092,"y":955}]},"mark":{"type":"point","shape":"triangle-up","filled":true,"color":"#111111","size":45,"opacity":1}},
{"data":{"name":"markers"},"mark":{"type":"point","shape":"circle","filled":true,"color":"#dc4a22","size":620,"opacity":1}},
{"data":{"name":"markers"},"mark":{"type":"point","shape":"circle","filled":true,"color":"#8a4436","size":180,"opacity":1}},
{"data":{"name":"markers"},"mark":{"type":"point","shape":"circle","filled":true,"color":"#d4ecf0","size":28,"opacity":1}},
{"data":{"values":[{"x":589,"y":482},{"x":1459,"y":482},{"x":638,"y":945},{"x":1630,"y":948}]},"mark":{"type":"point","shape":"circle","filled":true,"color":"#a83a30","size":40,"opacity":1}},
{"data":{"values":[{"x":1615,"y":642},{"x":1615,"y":1049}]},"mark":{"type":"point","shape":"cross","filled":true,"color":"#f3c46a","size":70,"opacity":1}},
{"data":{"values":[{"x":234,"y":1276},{"x":1172,"y":1276}]},"mark":{"type":"point","shape":"circle","filled":true,"color":"#d83a30","size":110,"opacity":1}},
{"data":{"values":[{"x":184,"y":1277},{"x":222,"y":1277},{"x":1122,"y":1277},{"x":1160,"y":1277}]},"mark":{"type":"point","shape":"circle","filled":true,"color":"#6cc070","size":420,"opacity":1}},
{"data":{"values":[{"x":203,"y":1277},{"x":1141,"y":1277}]},"mark":{"type":"point","shape":"circle","filled":true,"color":"#8edc78","size":1300,"opacity":1}},
{"data":{"values":[{"x":187,"y":1269},{"x":220,"y":1269},{"x":1125,"y":1269},{"x":1158,"y":1269}]},"mark":{"type":"point","shape":"circle","filled":true,"color":"#8ff0ee","size":70,"opacity":1}},
{"data":{"name":"hud"},"mark":{"type":"text","align":"left","baseline":"alphabetic","font":"Liberation Sans","fontWeight":"bold","fontSize":17,"stroke":"#b03a36","strokeWidth":3.5,"fill":"#b03a36"},"encoding":{"text":{"field":"text"}}},
{"data":{"name":"hud"},"mark":{"type":"text","align":"left","baseline":"alphabetic","font":"Liberation Sans","fontWeight":"bold","fontSize":17,"fill":"#2a0c10"},"encoding":{"text":{"field":"text"}}},
{"data":{"values":[{"text":"10.0","x":176,"y":559},{"text":"10.0","x":1112,"y":559},{"text":"10.0","x":176,"y":965},{"text":"10.0","x":1112,"y":965}]},"mark":{"type":"text","align":"left","baseline":"alphabetic","font":"Liberation Sans","fontWeight":"bold","fontSize":17,"fill":"#2b3f90","stroke":"#e6e8f4","strokeWidth":0.8},"encoding":{"text":{"field":"text"}}},
{"data":{"values":[{"text":"Dose","x":145,"y":329},{"text":"Dose","x":1081,"y":329},{"text":"Dose","x":145,"y":735},{"text":"Dose","x":1081,"y":735},{"text":"%","x":199,"y":353},{"text":"%","x":1135,"y":353},{"text":"%","x":199,"y":758},{"text":"%","x":1135,"y":758},{"text":"%","x":188,"y":580},{"text":"%","x":1124,"y":580},{"text":"%","x":188,"y":986},{"text":"%","x":1124,"y":986}]},"mark":{"type":"text","align":"left","baseline":"alphabetic","font":"Liberation Sans","fontWeight":"bold","fontSize":15,"fill":"#dc4a3c"},"encoding":{"text":{"field":"text"}}},
{"data":{"values":[{"text":"105.0","x":147,"y":353},{"text":"105.0","x":1083,"y":353},{"text":"105.0","x":147,"y":759},{"text":"105.0","x":1083,"y":759},{"text":"10.0","x":147,"y":580},{"text":"10.0","x":1083,"y":580},{"text":"10.0","x":147,"y":985},{"text":"10.0","x":1083,"y":985}]},"mark":{"type":"text","align":"left","baseline":"alphabetic","font":"Liberation Sans","fontSize":18,"fill":"#c9963a"},"encoding":{"text":{"field":"text"}}},
{"data":{"name":"letters"},"mark":{"type":"text","align":"center","baseline":"alphabetic","font":"Liberation Sans","fontWeight":"bold","fontSize":33,"stroke":"#3a0e10","strokeWidth":5,"fill":"#3a0e10"},"encoding":{"text":{"field":"text"}}},
{"data":{"name":"letters"},"mark":{"type":"text","align":"center","baseline":"alphabetic","font":"Liberation Sans","fontWeight":"bold","fontSize":33,"fill":"#e4452f"},"encoding":{"text":{"field":"text"}}},
{"data":{"values":[{"text":"Transport in","x":2011,"y":341},{"text":"medium","x":2011,"y":361},{"text":"Dose to medium","x":2011,"y":381},{"text":"Transport in","x":2011,"y":746},{"text":"medium","x":2011,"y":766},{"text":"Dose to medium","x":2011,"y":787}]},"mark":{"type":"text","align":"left","baseline":"alphabetic","font":"Liberation Sans","fontWeight":"bold","fontSize":16,"fill":"#e6dfa0"},"encoding":{"text":{"field":"text"}}},
{"data":{"values":[{"text":"✓","x":150,"y":1314},{"text":"✓","x":1086,"y":1314}]},"mark":{"type":"text","align":"center","baseline":"alphabetic","font":"DejaVu Sans","fontSize":20,"fill":"#a8d8a0"},"encoding":{"text":{"field":"text"}}},
{"data":{"values":[{"text":"Electron Beams (p. 667)","x":1152,"y":208}]},"mark":{"type":"text","align":"center","baseline":"alphabetic","font":"Liberation Sans","fontWeight":"bold","fontSize":109.5,"fill":"#000000"},"encoding":{"text":{"field":"text"}}},
{"data":{"values":[{"text":"A","x":112,"y":719},{"text":"B","x":2181,"y":719},{"text":"C","x":110,"y":1329},{"text":"D","x":2181,"y":1329}]},"mark":{"type":"text","align":"center","baseline":"alphabetic","font":"Liberation Sans","fontWeight":"bold","fontSize":42,"fill":"#111111"},"encoding":{"text":{"field":"text"}}},
{"data":{"values":[{"text":"FIGURE 31.2.","x":100,"y":1487}]},"mark":{"type":"text","align":"left","baseline":"alphabetic","font":"Liberation Sans","fontWeight":"bold","fontSize":58,"fill":"#ec1c2e"},"encoding":{"text":{"field":"text"}}},
{"data":{"values":[{"text":"Isodose distributions for a 10 × 10 cm","x":483,"y":1487},{"text":"applicator. (A) 9 MeV, 100-","x":1504,"y":1487},{"text":"cm SSD. (B) 9 MeV, 110-cm SSD. (C) 16 MeV, 100-cm SSD. (D) 16 MeV, 110-cm","x":100,"y":1563},{"text":"SSD.","x":100,"y":1639}]},"mark":{"type":"text","align":"left","baseline":"alphabetic","font":"Liberation Sans","fontSize":58.2,"fill":"#111111"},"encoding":{"text":{"field":"text"}}},
{"data":{"values":[{"text":"2","x":1456,"y":1472}]},"mark":{"type":"text","align":"left","baseline":"alphabetic","font":"Liberation Sans","fontSize":52,"fill":"#111111"},"encoding":{"text":{"field":"text"}}}
]}
